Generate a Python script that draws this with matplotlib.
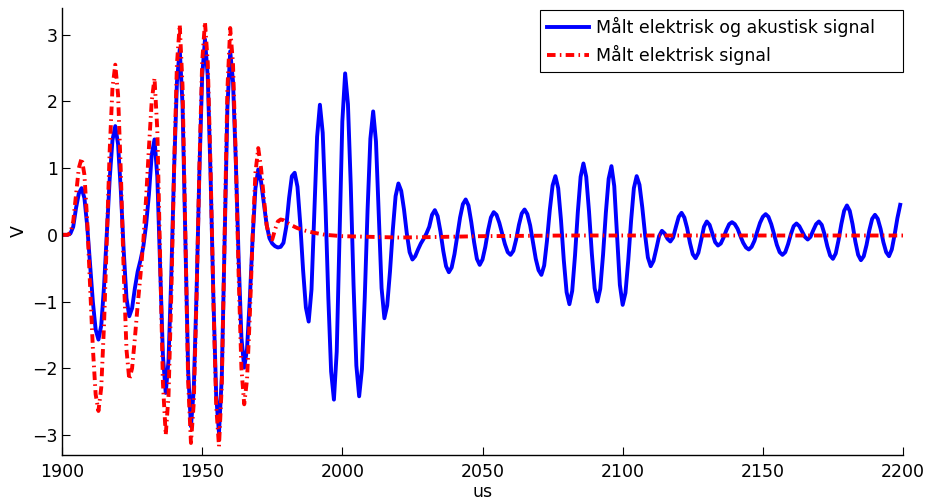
import numpy as np
import matplotlib
matplotlib.use("Agg")
import matplotlib.pyplot as plt

plt.rcParams['font.family'] = ['DejaVu Sans']

# Measured signals, sampled every microsecond from t = 1900 us
combined_signal = [
    0.00, 0.00, 0.00, 0.02, 0.12, 0.40, 0.62, 0.70, 0.55, 0.13,        # 1900
    -0.44, -1.00, -1.42, -1.57, -1.36, -0.77, 0.03, 0.83, 1.42, 1.63,  # 1910
    1.36, 0.65, -0.23, -0.95, -1.22, -1.10, -0.80, -0.55, -0.38, -0.18,  # 1920
    0.15, 0.60, 1.20, 1.43, 0.87, -0.47, -1.81, -2.37, -1.88, -0.59,   # 1930
    1.00, 2.29, 2.78, 1.95, -0.05, -2.04, -2.87, -2.32, -0.87, 0.93,   # 1940
    2.38, 2.93, 2.37, 0.89, -0.93, -2.41, -2.97, -2.13, -0.11, 1.91,   # 1950
    2.75, 2.30, 1.11, -0.35, -1.54, -1.99, -1.71, -0.96, -0.05, 0.70,  # 1960
    0.98, 0.80, 0.47, 0.15, -0.05, -0.13, -0.17, -0.19, -0.18, -0.12,  # 1970
    0.12, 0.55, 0.88, 0.93, 0.72, 0.16, -0.53, -1.09, -1.30, -0.82,    # 1980
    0.33, 1.47, 1.95, 1.53, 0.42, -0.94, -2.05, -2.47, -1.75, -0.03,   # 1990
    1.70, 2.42, 1.96, 0.75, -0.75, -1.96, -2.42, -2.01, -0.94, 0.37,   # 2000
    1.44, 1.85, 1.40, 0.30, -0.80, -1.25, -1.06, -0.55, 0.07, 0.58,    # 2010
    0.77, 0.66, 0.38, 0.02, -0.26, -0.37, -0.32, -0.22, -0.13, -0.06,  # 2020
    0.02, 0.12, 0.30, 0.37, 0.28, 0.05, -0.24, -0.47, -0.56, -0.49,    # 2030
    -0.29, -0.02, 0.26, 0.46, 0.53, 0.44, 0.19, -0.11, -0.36, -0.45,   # 2040
    -0.37, -0.18, 0.07, 0.26, 0.34, 0.30, 0.18, 0.02, -0.14, -0.26,    # 2050
    -0.30, -0.24, -0.07, 0.15, 0.32, 0.38, 0.31, 0.14, -0.11, -0.36,   # 2060
    -0.53, -0.60, -0.46, -0.09, 0.37, 0.74, 0.88, 0.70, 0.22, -0.38,   # 2070
    -0.86, -1.04, -0.84, -0.31, 0.34, 0.87, 1.07, 0.87, 0.35, -0.28,   # 2080
    -0.80, -1.00, -0.81, -0.30, 0.33, 0.84, 1.03, 0.73, -0.01, -0.75,  # 2090
    -1.05, -0.87, -0.38, 0.21, 0.70, 0.88, 0.75, 0.41, 0.00, -0.34,    # 2100
    -0.47, -0.39, -0.21, -0.02, 0.06, 0.02, -0.06, -0.10, -0.04, 0.12,  # 2110
    0.27, 0.33, 0.26, 0.10, -0.12, -0.29, -0.35, -0.27, -0.08, 0.12,   # 2120
    0.20, 0.15, 0.02, -0.11, -0.16, -0.13, -0.04, 0.07, 0.16, 0.19,    # 2130
    0.16, 0.09, -0.02, -0.12, -0.19, -0.22, -0.18, -0.09, 0.05, 0.18,  # 2140
    0.27, 0.31, 0.27, 0.16, 0.01, -0.15, -0.26, -0.30, -0.26, -0.14,   # 2150
    0.01, 0.13, 0.17, 0.13, 0.05, -0.03, -0.07, -0.03, 0.07, 0.16,     # 2160
    0.20, 0.15, 0.01, -0.17, -0.31, -0.36, -0.28, -0.08, 0.16, 0.36,   # 2170
    0.44, 0.36, 0.16, -0.10, -0.30, -0.38, -0.32, -0.15, 0.07, 0.24,   # 2180
    0.30, 0.24, 0.09, -0.11, -0.26, -0.32, -0.22, 0.00, 0.25, 0.45,    # 2190
]
combined_time = np.arange(1900, 1900 + len(combined_signal))

electric_head = [
    0.00, 0.00, 0.00, 0.03, 0.20, 0.60, 1.00, 1.15, 0.90, 0.20,        # 1900
    -0.75, -1.69, -2.39, -2.64, -2.29, -1.34, -0.05, 1.25, 2.20, 2.55,  # 1910
    2.10, 0.92, -0.54, -1.72, -2.17, -2.00, -1.55, -1.05, -0.60, -0.10,  # 1920
    0.55, 1.30, 2.00, 2.35, 1.57, -0.33, -2.22, -3.00, -2.41, -0.88,   # 1930
    1.03, 2.56, 3.15, 2.23, 0.02, -2.20, -3.12, -2.52, -0.94, 1.01,    # 1940
    2.59, 3.19, 2.58, 0.99, -0.97, -2.56, -3.17, -2.25, -0.04, 2.18,   # 1950
    3.10, 2.56, 1.15, -0.59, -2.00, -2.54, -2.17, -1.21, -0.03, 0.93,  # 1960
    1.30, 1.00, 0.55, 0.15, -0.05, -0.07, 0.08, 0.20, 0.23, 0.22,      # 1970
    0.19,                                                              # 1980
]
electric_tail_time = [1982, 1984, 1987, 1990, 1994, 2000, 2010, 2020,
                      2030, 2050, 2080, 2120, 2160, 2200]
electric_tail = [0.14, 0.10, 0.06, 0.03, 0.00, -0.02, -0.03, -0.04,
                 -0.035, -0.02, -0.01, -0.01, -0.01, -0.01]
electric_time = np.concatenate([np.arange(1900, 1900 + len(electric_head)),
                                electric_tail_time])
electric_signal = np.concatenate([electric_head, electric_tail])

series_labels = ['Målt elektrisk og akustisk signal', 'Målt elektrisk signal']
x_ticks = [1900, 1950, 2000, 2050, 2100, 2150, 2200]
y_ticks = [-3, -2, -1, 0, 1, 2, 3]

FS = 12.5
fig = plt.figure(figsize=(9.31, 5.03), dpi=100)
ax = fig.add_axes([62 / 931, 48 / 503, 841 / 931, 447 / 503])

ax.plot(combined_time, combined_signal, color=(0, 0, 1), lw=2.8,
        label=series_labels[0])
ax.plot(electric_time, electric_signal, color=(1, 0, 0), lw=2.8,
        linestyle=(0, (2.2, 1.1, 0.4, 1.1)), label=series_labels[1])

ax.set_xlim(1900, 2200)
ax.set_ylim(-3.3, 3.4)
ax.set_xticks(x_ticks)
ax.set_yticks(y_ticks)

for side in ('top', 'right'):
    ax.spines[side].set_visible(False)
for side in ('left', 'bottom'):
    ax.spines[side].set_linewidth(1.0)

ax.tick_params(direction='in', length=6, width=0.8, labelsize=FS,
               top=False, right=False)
ax.tick_params(axis='y', pad=3)
ax.tick_params(axis='x', pad=6)

ax.set_xlabel('us', fontsize=FS, labelpad=1)
ax.set_ylabel('V', fontsize=FS, labelpad=3)

# legend box spanning the upper-right corner of the axes
leg = ax.legend(loc='upper left', bbox_to_anchor=(0.568, 0.3, 0.432, 0.6955),
                mode='expand', fontsize=FS, frameon=True, fancybox=False,
                edgecolor='black', framealpha=1, handlelength=2.42,
                handletextpad=0.4, labelspacing=0.44, borderpad=0.4,
                borderaxespad=0.0)
leg.get_frame().set_linewidth(0.8)

fig.savefig('out.png', dpi=100)
